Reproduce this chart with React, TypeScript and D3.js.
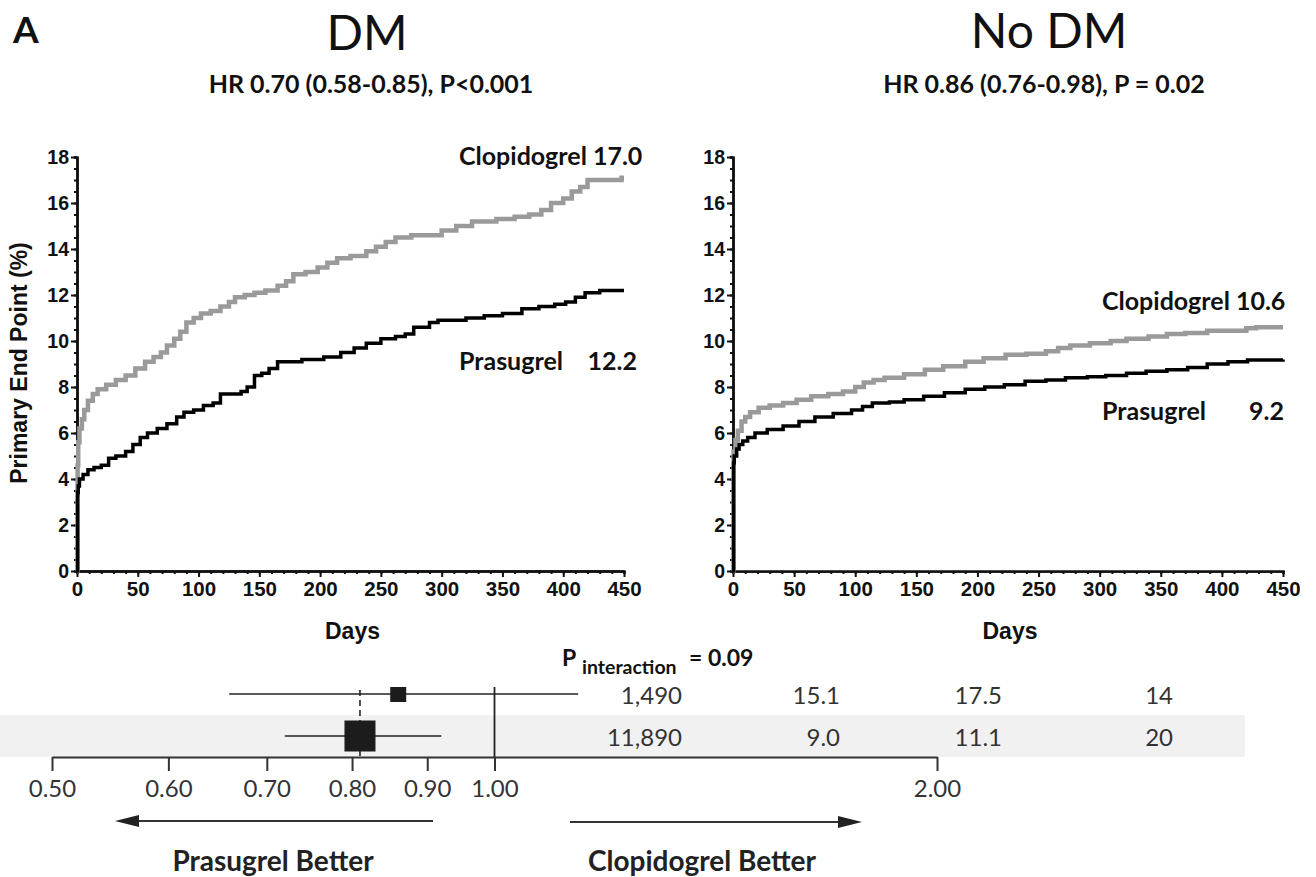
import React, { useEffect, useRef } from "react";
import * as d3 from "d3";

// ---- Kaplan-Meier data (days, cumulative % with primary end point) ----
const dmClopiDays = [0, 0.5, 1, 2, 4, 6, 9, 13, 17, 24, 32, 40, 48, 56, 63, 69, 74, 80, 85, 90, 96, 102, 110, 118, 125, 130, 138, 146, 155, 165, 172, 178, 188, 198, 206, 214, 225, 238, 246, 254, 262, 275, 290, 300, 312, 325, 345, 360, 372, 382, 390, 400, 407, 414, 420, 442, 448, 450];
const dmClopiPct = [0, 4.6, 5.6, 6.2, 6.6, 7.0, 7.4, 7.7, 7.9, 8.1, 8.3, 8.5, 8.8, 9.1, 9.3, 9.5, 9.8, 10.1, 10.4, 10.8, 11.0, 11.2, 11.3, 11.5, 11.7, 11.9, 12.0, 12.1, 12.2, 12.4, 12.6, 12.9, 13.0, 13.2, 13.4, 13.6, 13.7, 13.9, 14.1, 14.3, 14.5, 14.6, 14.6, 14.8, 15.0, 15.2, 15.3, 15.4, 15.5, 15.7, 16.0, 16.2, 16.5, 16.7, 17.0, 17.0, 17.1, 17.1];

const dmPrasuDays = [0, 0.5, 1, 2, 5, 9, 14, 20, 26, 32, 40, 46, 52, 58, 66, 74, 82, 88, 96, 104, 112, 118, 128, 135, 140, 146, 152, 158, 165, 185, 203, 217, 228, 238, 250, 262, 270, 277, 290, 297, 320, 335, 350, 366, 380, 393, 402, 410, 418, 430, 450];
const dmPrasuPct = [0, 3.4, 3.7, 4.0, 4.2, 4.4, 4.5, 4.6, 4.9, 5.0, 5.2, 5.5, 5.8, 6.0, 6.2, 6.4, 6.7, 6.9, 7.0, 7.2, 7.3, 7.7, 7.7, 7.8, 8.0, 8.5, 8.6, 8.8, 9.1, 9.2, 9.3, 9.5, 9.7, 9.9, 10.1, 10.2, 10.3, 10.6, 10.8, 10.9, 11.0, 11.1, 11.2, 11.4, 11.5, 11.6, 11.7, 11.9, 12.1, 12.2, 12.2];

const noDmClopiDays = [0, 0.5, 2, 4, 7, 10, 14, 21, 30, 41, 52, 64, 78, 90, 100, 107, 115, 124, 140, 157, 172, 190, 205, 223, 240, 256, 266, 276, 292, 309, 322, 340, 355, 370, 388, 410, 420, 428, 450];
const noDmClopiPct = [0, 5.2, 5.7, 6.1, 6.5, 6.7, 6.9, 7.1, 7.2, 7.3, 7.45, 7.6, 7.7, 7.8, 8.0, 8.2, 8.3, 8.4, 8.55, 8.75, 8.9, 9.1, 9.25, 9.4, 9.45, 9.55, 9.7, 9.8, 9.9, 10.0, 10.1, 10.2, 10.3, 10.35, 10.45, 10.45, 10.55, 10.6, 10.6];

const noDmPrasuDays = [0, 0.5, 1, 3, 5, 8, 12, 18, 28, 41, 54, 67, 82, 97, 106, 114, 128, 140, 156, 173, 190, 206, 222, 239, 256, 272, 290, 305, 322, 338, 355, 372, 388, 405, 421, 450];
const noDmPrasuPct = [0, 4.7, 5.0, 5.3, 5.5, 5.65, 5.8, 6.0, 6.15, 6.3, 6.5, 6.7, 6.85, 7.0, 7.15, 7.3, 7.35, 7.45, 7.6, 7.75, 7.9, 8.0, 8.1, 8.25, 8.3, 8.4, 8.45, 8.5, 8.6, 8.68, 8.75, 8.85, 9.0, 9.1, 9.17, 9.2];

const kmYTicks = [0, 2, 4, 6, 8, 10, 12, 14, 16, 18];
const kmXTicks = [0, 50, 100, 150, 200, 250, 300, 350, 400, 450];

// ---- forest plot rows ----
const subgroupCount = [1490, 11890];
const prasugrelRate = ["15.1", "9.0"];
const clopidogrelRate = ["17.5", "11.1"];
const nntValues = ["14", "20"];
const hrPoint = [0.86, 0.81];
const hrLow = [0.66, 0.72];
const hrHigh = [1.14, 0.92];
const overallHr = 0.81;
const hrTicks = [0.5, 0.6, 0.7, 0.8, 0.9, 1.0, 2.0];

const W = 1316,
  H = 877;
const lato = "Lato, 'Open Sans', sans-serif";
const helv = "'Liberation Sans', Arial, sans-serif";

function addText(g, x, y, str, size, opts: any = {}) {
  return g
    .append("text")
    .attr("x", x)
    .attr("y", y)
    .attr("font-family", opts.family || lato)
    .attr("font-size", size)
    .attr("font-weight", opts.weight || 700)
    .attr("text-anchor", opts.anchor || "start")
    .attr("fill", opts.fill || "#111")
    .text(str);
}

function drawPanel(svg, cfg) {
  const x = d3.scaleLinear().domain([0, 450]).range(cfg.xRange);
  const y = d3.scaleLinear().domain([0, 18]).range([571, 157]);
  const g = svg.append("g");

  const styleAxis = (ax, size) => {
    ax.attr("font-family", helv).attr("font-size", size).attr("font-weight", 700);
    ax.selectAll(".domain").attr("stroke", "#111").attr("stroke-width", 2.5);
    ax.selectAll(".tick line").attr("stroke", "#111").attr("stroke-width", 2);
    ax.selectAll(".tick text").attr("fill", "#111");
  };

  // minor ticks
  const ym = g
    .append("g")
    .attr("transform", `translate(${x(0)},0)`)
    .call(d3.axisLeft(y).tickValues(d3.range(0, 18.01, 0.5)).tickSize(3).tickFormat(() => ""));
  styleAxis(ym, 10);
  const xm = g
    .append("g")
    .attr("transform", `translate(0,${y(0)})`)
    .call(d3.axisBottom(x).tickValues(d3.range(0, 451, 10)).tickSize(3).tickFormat(() => ""));
  styleAxis(xm, 10);

  // major ticks
  const ya = g
    .append("g")
    .attr("transform", `translate(${x(0)},0)`)
    .call(d3.axisLeft(y).tickValues(kmYTicks).tickSize(6).tickSizeOuter(0).tickPadding(2));
  styleAxis(ya, 19.5);

  const xa = g
    .append("g")
    .attr("transform", `translate(0,${y(0)})`)
    .call(d3.axisBottom(x).tickValues(kmXTicks).tickSize(6).tickSizeOuter(0).tickPadding(4));
  styleAxis(xa, 20.5);
  if (cfg.clip) xa.attr("clip-path", `url(#${cfg.clip})`);

  const line = d3
    .line<[number, number]>()
    .x((d) => x(d[0]))
    .y((d) => y(d[1]))
    .curve(d3.curveStepAfter);

  g.append("path")
    .datum(d3.zip(cfg.clopiDays, cfg.clopiPct))
    .attr("d", line)
    .attr("fill", "none")
    .attr("stroke", "#9a9a9a")
    .attr("stroke-width", 4.5);
  g.append("path")
    .datum(d3.zip(cfg.prasuDays, cfg.prasuPct))
    .attr("d", line)
    .attr("fill", "none")
    .attr("stroke", "#000")
    .attr("stroke-width", 3.5);

  addText(g, (cfg.xRange[0] + cfg.xRange[1]) / 2 + 2, 639, "Days", 23, { family: helv, anchor: "middle" });

  const lb = cfg.labels;
  addText(g, lb.x, lb.clopiY, lb.clopi, 25);
  addText(g, lb.x, lb.prasuY, "Prasugrel", 25);
  addText(g, lb.prasuEnd, lb.prasuY, lb.prasuVal, 25, { anchor: "end" });
}

export default function App() {
  const ref = useRef<SVGSVGElement>(null);

  useEffect(() => {
    const svg = d3.select(ref.current);
    svg.selectAll("*").remove();
    svg.append("rect").attr("width", W).attr("height", H).attr("fill", "#fff");

    const defs = svg.append("defs");
    defs.append("clipPath").attr("id", "clipR").append("rect").attr("x", 0).attr("y", 0).attr("width", 1300).attr("height", H);
    defs.append("clipPath").attr("id", "clipF").append("rect").attr("x", 0).attr("y", 687).attr("width", W).attr("height", H - 687);

    // headers
    addText(svg, 13, 43, "A", 37);
    addText(svg, 367, 50, "DM", 48, { weight: 400, anchor: "middle" });
    addText(svg, 1049, 48, "No DM", 48, { weight: 400, anchor: "middle" });
    addText(svg, 371, 93, "HR 0.70 (0.58-0.85), P<0.001", 25, { anchor: "middle" });
    addText(svg, 1044, 93, "HR 0.86 (0.76-0.98), P = 0.02", 25, { anchor: "middle" });

    svg
      .append("text")
      .attr("transform", "translate(27,363) rotate(-90)")
      .attr("text-anchor", "middle")
      .attr("font-family", helv)
      .attr("font-size", 23)
      .attr("font-weight", 700)
      .attr("fill", "#111")
      .text("Primary End Point (%)");

    drawPanel(svg, {
      xRange: [77, 624],
      clopiDays: dmClopiDays,
      clopiPct: dmClopiPct,
      prasuDays: dmPrasuDays,
      prasuPct: dmPrasuPct,
      labels: { x: 459, clopiY: 165, clopi: "Clopidogrel 17.0", prasuY: 370, prasuEnd: 637, prasuVal: "12.2" },
    });
    drawPanel(svg, {
      xRange: [733, 1283],
      clip: "clipR",
      clopiDays: noDmClopiDays,
      clopiPct: noDmClopiPct,
      prasuDays: noDmPrasuDays,
      prasuPct: noDmPrasuPct,
      labels: { x: 1102, clopiY: 310, clopi: "Clopidogrel 10.6", prasuY: 420, prasuEnd: 1284, prasuVal: "9.2" },
    });

    // ---- forest plot ----
    const fx = d3.scaleLog().domain([0.5, 2]).range([52, 937]);
    const rows = subgroupCount.map((n, i) => i);
    const fy = d3.scaleBand<number>().domain(rows).range([673, 757]);
    const side = d3.scaleLinear().domain([1490, 11890]).range([16, 31]);
    const fmtN = d3.format(",");

    const fg = svg.append("g").attr("clip-path", "url(#clipF)");
    fg.selectAll("rect.band")
      .data(rows.filter((i) => i % 2 === 1))
      .enter()
      .append("rect")
      .attr("x", 0)
      .attr("y", (i) => fy(i))
      .attr("width", 1245)
      .attr("height", fy.bandwidth())
      .attr("fill", "#f1f1f1");

    fg.append("line")
      .attr("x1", fx(1))
      .attr("x2", fx(1))
      .attr("y1", 680)
      .attr("y2", 757)
      .attr("stroke", "#222")
      .attr("stroke-width", 1.8);
    fg.append("line")
      .attr("x1", fx(overallHr))
      .attr("x2", fx(overallHr))
      .attr("y1", 680)
      .attr("y2", 757)
      .attr("stroke", "#222")
      .attr("stroke-width", 1.6)
      .attr("stroke-dasharray", "6,4");

    const cy = (i) => fy(i) + fy.bandwidth() / 2;
    fg.selectAll("line.ci")
      .data(rows)
      .enter()
      .append("line")
      .attr("x1", (i) => fx(hrLow[i]))
      .attr("x2", (i) => fx(hrHigh[i]))
      .attr("y1", cy)
      .attr("y2", cy)
      .attr("stroke", "#222")
      .attr("stroke-width", 1.6);
    fg.selectAll("rect.sq")
      .data(rows)
      .enter()
      .append("rect")
      .attr("x", (i) => fx(hrPoint[i]) - side(subgroupCount[i]) / 2)
      .attr("y", (i) => cy(i) - side(subgroupCount[i]) / 2)
      .attr("width", (i) => side(subgroupCount[i]))
      .attr("height", (i) => side(subgroupCount[i]))
      .attr("fill", "#1c1c1c");

    const cols = [
      { x: 682, vals: subgroupCount.map((n) => fmtN(n)) },
      { x: 840, vals: prasugrelRate },
      { x: 1002, vals: clopidogrelRate },
      { x: 1173, vals: nntValues },
    ];
    cols.forEach((c) => {
      rows.forEach((i) => {
        addText(fg, c.x, cy(i) + 10, c.vals[i], 24, { weight: 400, anchor: "end", fill: "#333" });
      });
    });

    const fa = svg
      .append("g")
      .attr("transform", "translate(0,757)")
      .call(d3.axisBottom(fx).tickValues(hrTicks).tickFormat(d3.format(".2f")).tickSize(14).tickSizeOuter(0).tickPadding(9));
    fa.attr("font-family", lato).attr("font-size", 24).attr("font-weight", 400);
    fa.selectAll(".domain").attr("stroke", "#333").attr("stroke-width", 2);
    fa.selectAll(".tick line").attr("stroke", "#333").attr("stroke-width", 2);
    fa.selectAll(".tick text").attr("fill", "#333");

    // direction arrows
    const arrow = (xFrom, xTo, yA) => {
      const dir = Math.sign(xTo - xFrom);
      svg.append("line")
        .attr("x1", xFrom)
        .attr("x2", xTo - dir * 18)
        .attr("y1", yA)
        .attr("y2", yA)
        .attr("stroke", "#333")
        .attr("stroke-width", 2);
      svg.append("path")
        .attr("d", `M${xTo},${yA}L${xTo - dir * 24},${yA - 6}L${xTo - dir * 24},${yA + 6}Z`)
        .attr("fill", "#222");
    };
    arrow(433, 115, 821);
    arrow(570, 862, 822);
    addText(svg, 273, 871, "Prasugrel Better", 28, { anchor: "middle", fill: "#222" });
    addText(svg, 702, 871, "Clopidogrel Better", 28, { anchor: "middle", fill: "#222" });

    // interaction p-value
    addText(svg, 562, 666, "P", 23);
    addText(svg, 582, 674, "interaction", 19.5);
    addText(svg, 689, 666, "= 0.09", 23);
  }, []);

  return <svg ref={ref} width={W} height={H} style={{ position: "absolute", left: 0, top: 0, display: "block" }} />;
}
